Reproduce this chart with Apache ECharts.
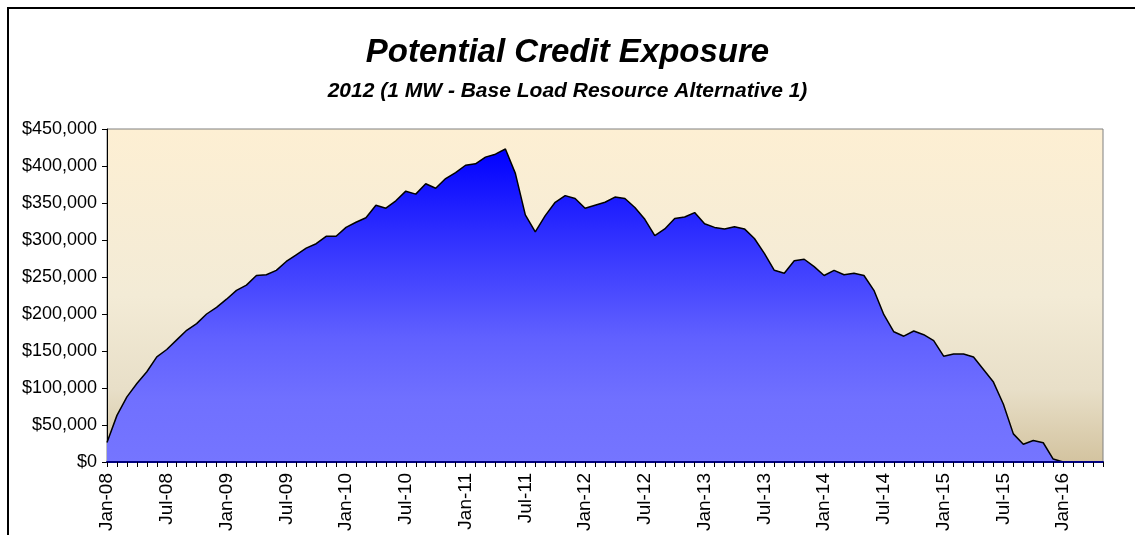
<!DOCTYPE html>
<html>
<head>
<meta charset="utf-8">
<script src="https://cdn.jsdelivr.net/npm/echarts@6/dist/echarts.min.js"></script>
<style>
html,body{margin:0;padding:0;background:#fff;}
#c{width:1135px;height:535px;}
</style>
</head>
<body>
<div id="c"></div>
<script>
// Monthly categories Jan-08 .. May-16
var monthNames = ['Jan','Feb','Mar','Apr','May','Jun','Jul','Aug','Sep','Oct','Nov','Dec'];
var startYear = 2008;
var monthCount = 101;
var categories = [];
for (var i = 0; i < monthCount; i++) {
  var y = startYear + Math.floor(i / 12);
  categories.push(monthNames[i % 12] + '-' + String(y).slice(2));
}

// Potential credit exposure values ($)
var exposure2008 = [26500, 63000, 88000, 106000, 122000, 142000, 152000, 165000, 178000, 187000, 200000, 209000];
var exposure2009 = [220000, 232000, 239000, 252000, 253000, 259000, 271000, 280000, 289000, 295000, 305000, 305000];
var exposure2010 = [317000, 324000, 330000, 347000, 343000, 353000, 366000, 362000, 376000, 370000, 383000, 391000];
var exposure2011 = [401000, 403000, 412000, 416000, 423000, 390000, 334000, 311000, 333000, 351000, 360000, 356000];
var exposure2012 = [343000, 347000, 351000, 358000, 356000, 344000, 328000, 306000, 315000, 329000, 331000, 337000];
var exposure2013 = [322000, 317000, 315000, 318000, 315000, 302000, 282000, 259000, 255000, 272000, 274000, 264000];
var exposure2014 = [252000, 259000, 253000, 255000, 252000, 232000, 199000, 176000, 170000, 177000, 172000, 164000];
var exposure2015 = [143000, 146000, 146000, 142000, 125000, 108000, 78000, 38000, 24000, 29000, 26000, 4000];
var exposure2016 = [0, 0, 0, 0, 0];

var exposure = [].concat(exposure2008, exposure2009, exposure2010, exposure2011,
  exposure2012, exposure2013, exposure2014, exposure2015, exposure2016);

var chart = echarts.init(document.getElementById('c'), null, {renderer: 'canvas'});
var fontFam = '"Liberation Sans", Arial, sans-serif';

chart.setOption({
  animation: false,
  backgroundColor: '#ffffff',
  graphic: [{
    type: 'rect',
    shape: {x: 8, y: 8, width: 1300, height: 700},
    style: {fill: 'none', stroke: '#000000', lineWidth: 2},
    z: 0, silent: true
  }],
  title: [{
    text: 'Potential Credit Exposure',
    left: 'center', top: 31,
    textStyle: {fontFamily: fontFam, fontSize: 33, fontWeight: 'bold', fontStyle: 'italic', color: '#000'}
  }, {
    text: '2012 (1 MW - Base Load Resource Alternative 1)',
    left: 'center', top: 76,
    textStyle: {fontFamily: fontFam, fontSize: 21, fontWeight: 'bold', fontStyle: 'italic', color: '#000'}
  }],
  grid: {
    left: 107, right: 32, top: 129, bottom: 73,
    show: true,
    borderColor: '#808080', borderWidth: 1,
    backgroundColor: {
      type: 'linear', x: 0, y: 0, x2: 0, y2: 1,
      colorStops: [
        {offset: 0, color: '#FDEFD3'},
        {offset: 0.5, color: '#F3EBD6'},
        {offset: 0.78, color: '#E8DFC8'},
        {offset: 1, color: '#D3C39F'}
      ]
    }
  },
  xAxis: {
    type: 'category',
    data: categories,
    boundaryGap: false,
    z: 5,
    axisLine: {lineStyle: {color: '#000080', width: 2}},
    axisTick: {show: true, interval: 0, length: 5, lineStyle: {color: '#000000', width: 1}},
    axisLabel: {interval: 5, rotate: 90, margin: 11, fontFamily: fontFam, fontSize: 19, color: '#000'},
    splitLine: {show: false}
  },
  yAxis: {
    type: 'value',
    min: 0, max: 450000, interval: 50000,
    axisLine: {show: true, lineStyle: {color: '#000000', width: 1}},
    axisTick: {show: true, length: 5, lineStyle: {color: '#000000'}},
    axisLabel: {
      margin: 10, fontFamily: fontFam, fontSize: 18, color: '#000',
      formatter: function (v) { return '$' + v.toLocaleString('en-US'); }
    },
    splitLine: {show: false}
  },
  series: [{
    type: 'line',
    data: exposure,
    showSymbol: false,
    symbol: 'none',
    lineStyle: {color: '#000000', width: 1.5},
    areaStyle: {
      opacity: 1,
      color: {
        type: 'linear', x: 0, y: 0, x2: 0, y2: 1,
        colorStops: [
          {offset: 0, color: '#0000FF'},
          {offset: 0.3, color: '#3333FF'},
          {offset: 0.6, color: '#6060FF'},
          {offset: 0.8, color: '#7070FF'},
          {offset: 1, color: '#7575FF'}
        ]
      }
    },
    z: 2
  }]
});
</script>
</body>
</html>
